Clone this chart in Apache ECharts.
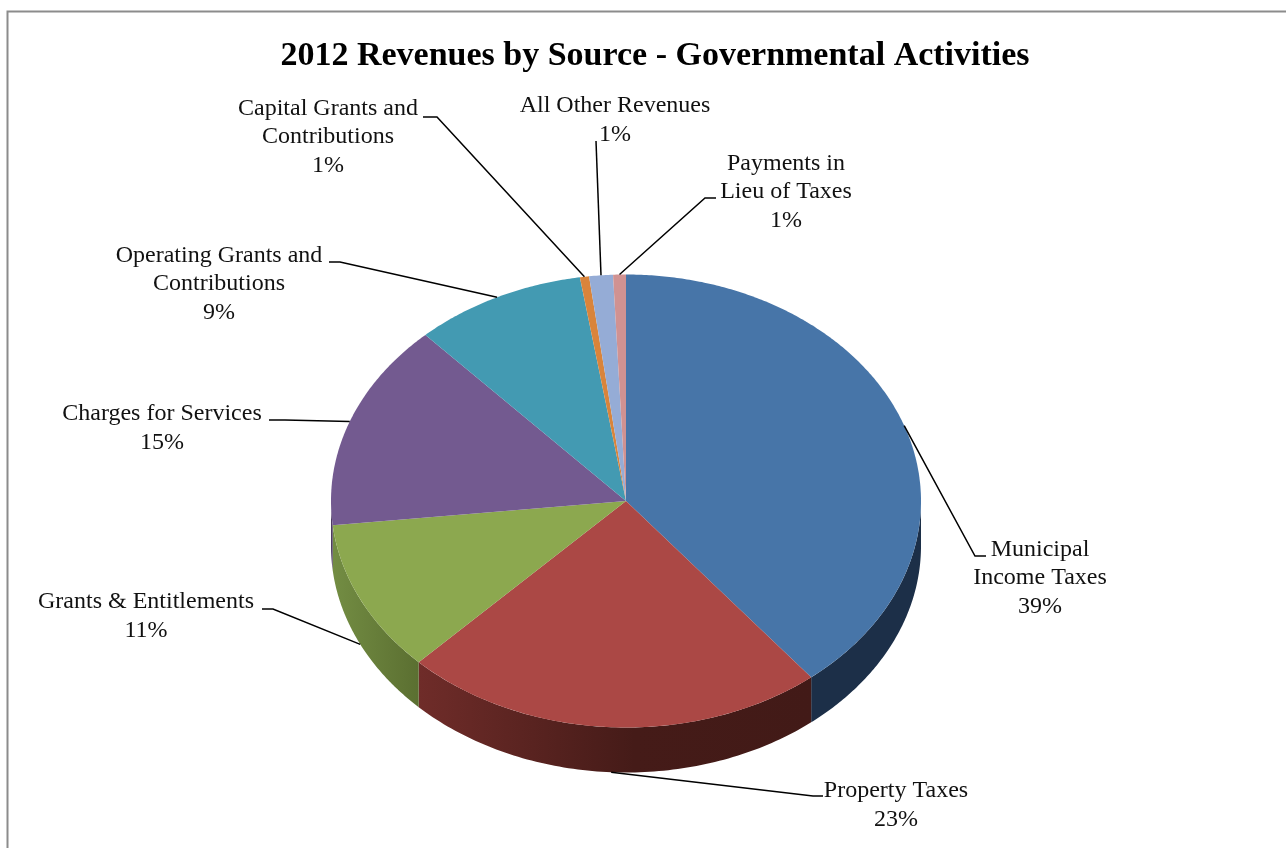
<!DOCTYPE html>
<html><head><meta charset="utf-8">
<style>html,body{margin:0;padding:0;background:#fff}#c{width:1286px;height:848px}</style>
<script src="https://cdn.jsdelivr.net/npm/echarts@6/dist/echarts.min.js"></script>
</head><body><div id="c"></div>
<script>
const chartTitle = '2012 Revenues by Source - Governmental Activities';
const categories = ['Municipal\nIncome Taxes','Property Taxes','Grants & Entitlements','Charges for Services','Operating Grants and\nContributions','Capital Grants and\nContributions','All Other Revenues','Payments in\nLieu of Taxes'];
// slice shares
const shares = [39.2,23.2,10.9,14.8,9.4,0.5,1.3,0.7];
// percentages as printed on the labels
const printedPct = [39,23,11,15,9,1,1,1];

// styling / layout
const topColors = ['#4775A8','#AB4845','#8CA84F','#735A90','#439AB2','#D9843B','#95ACD6','#D09292'];
const wallStops = [
  [[0,'#1C2F48'],[1,'#1C2F48']],
  [[0,'#6F2C29'],[0.55,'#451B18'],[1,'#421A17']],
  [[0,'#738D43'],[1,'#5B6F31']],
  [[0,'#4D3C60'],[1,'#4D3C60']],
  [[0,'#2D6677'],[1,'#2D6677']],
  [[0,'#8F5526'],[1,'#8F5526']],
  [[0,'#63728F'],[1,'#63728F']],
  [[0,'#8B6161'],[1,'#8B6161']]
];
const CX=626, CY=501, RX=295, RY=226.5, DEPTH=45;
const labelCenter = [[1040,578],[896,805],[146,616],[162,428],[219,284],[328,137],[615,120],[786,192]];
const labelElbow = [[[986,556],[975,556]],[[823,796],[813,796]],[[262,609],[273,609]],[[269,420],[285,420]],[[329,262],[340,262]],[[423,117],[437,117]],[[596,141]],[[716,198],[705,198]]];

const total = shares.reduce((a,b)=>a+b,0);
const starts = []; { let s=0; for(const v of shares){ starts.push(s); s+=v; } }
const rad = d => d*Math.PI/180;
const pt = (deg,dz=0)=>[CX+RX*Math.sin(rad(deg)), CY-RY*Math.cos(rad(deg))+dz];

function renderItem(params, api){
  const i = params.dataIndex;
  const a0 = starts[i]/total*360, a1 = (starts[i]+api.value(0))/total*360;
  const children = [];
  const w0 = Math.max(a0,90), w1 = Math.min(a1,270);
  if (w1>w0){
    const up=[], down=[];
    for(let k=0;k<=90;k++){ const d=w0+(w1-w0)*k/90; up.push(pt(d)); down.unshift(pt(d,DEPTH)); }
    children.push({type:'polygon',z2:1,shape:{points:up.concat(down)},style:{fill:new echarts.graphic.LinearGradient(0,0,1,0,wallStops[i].map(s=>({offset:s[0],color:s[1]})))}});
  }
  const pts=[[CX,CY]]; const n=Math.max(8,Math.ceil(a1-a0)*2);
  for(let k=0;k<=n;k++) pts.push(pt(a0+(a1-a0)*k/n));
  children.push({type:'polygon',z2:2,shape:{points:pts},style:{fill:topColors[i]}});
  // leader line: starts on the rim at the slice mid-angle
  const mid=(a0+a1)/2, onFront = mid>100 && mid<260;
  const start = pt(mid,onFront?DEPTH:0);
  children.push({type:'polyline',z2:3,shape:{points:labelElbow[i].concat([start])},style:{stroke:'#000',lineWidth:1.5,fill:null}});
  children.push({type:'text',z2:4,style:{text:categories[i]+'\n'+printedPct[i]+'%',x:labelCenter[i][0],y:labelCenter[i][1],align:'center',verticalAlign:'middle',textAlign:'center',textVerticalAlign:'middle',fontFamily:'"Liberation Serif"',fontSize:24,lineHeight:28.7,fill:'#111'}});
  return {type:'group',children};
}

const chart = echarts.init(document.getElementById('c'),null,{renderer:'canvas',width:1286,height:848});
chart.setOption({
  animation:false,
  backgroundColor:'#fff',
  title:{text:chartTitle,left:650,top:34,textAlign:'center',textStyle:{fontFamily:'"Liberation Serif"',fontWeight:'bold',fontSize:34,color:'#000'}},
  graphic:[{type:'polyline',shape:{points:[[7.5,848],[7.5,11.5],[1286,11.5]]},style:{fill:null,stroke:'#8C8C8C',lineWidth:2},z:-1}],
  series:[{type:'custom',coordinateSystem:'none',renderItem,data:shares.map((v,i)=>({name:categories[i],value:[v]})),silent:true,clip:false}]
});
</script></body></html>
